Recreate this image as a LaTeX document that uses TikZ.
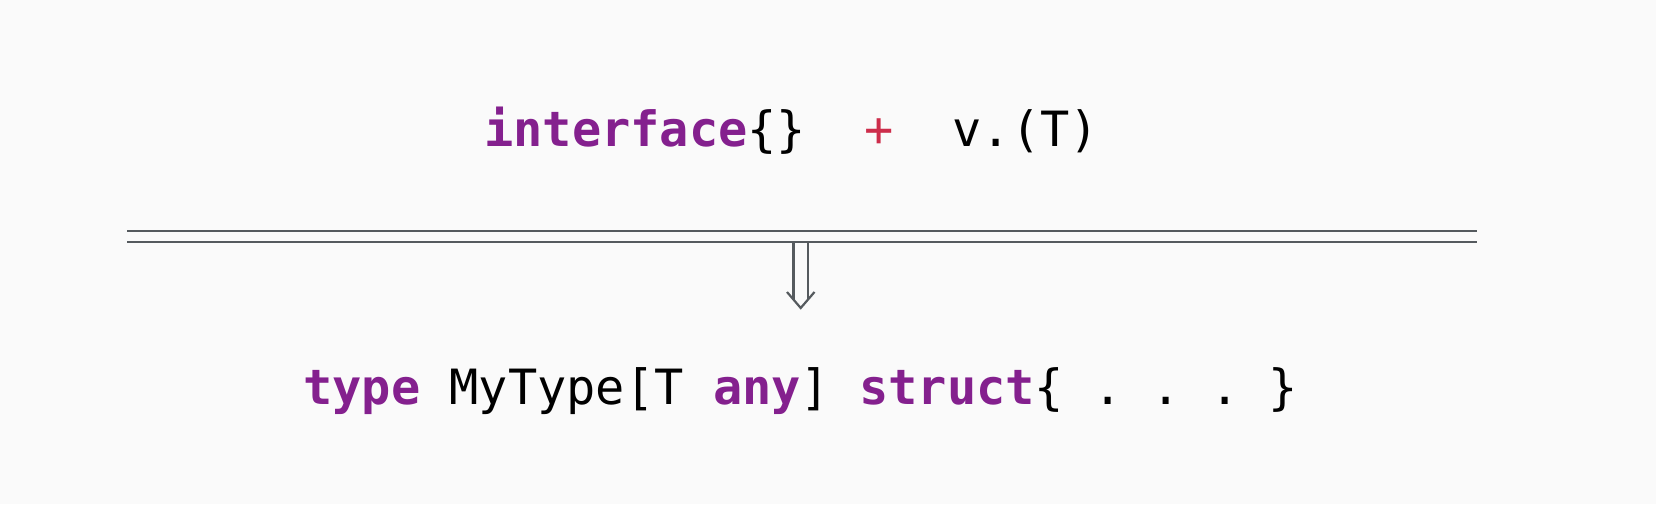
\documentclass[tikz,border=0pt]{standalone}
\usepackage{fontspec}
\setmonofont{DejaVu Sans Mono}
\usetikzlibrary{positioning, calc}
\definecolor{colKeyword}{RGB}{132, 32, 142}
\definecolor{colPlus}{RGB}{205, 45, 75}
\definecolor{colRule}{RGB}{85, 90, 94}
\definecolor{colPaper}{RGB}{250, 250, 250}
\newcommand{\gokw}[1]{\textbf{\textcolor{colKeyword}{#1}}}

\begin{document}
\begin{tikzpicture}[x=0.5pt, y=-0.5pt,
    every node/.style={font=\ttfamily\fontsize{24.3}{29}\selectfont, inner sep=0pt, anchor=base west},
    rule/.style={draw=colRule, line width=1.4pt},
    arrowline/.style={draw=colRule, line width=1.1pt}]
    % --- Hintergrund ---
    \fill[colPaper] (0,0) rectangle (1656,504);
    \useasboundingbox (0,0) rectangle (1656,504);

    % --- obere Zeile ---
    \node (topcode) at (484,146) {\gokw{interface}\{\}~~\textcolor{colPlus}{+}~~v.(T)};

    % --- Doppelstrich ---
    \coordinate (ruleAL) at (127,231);
    \coordinate (ruleAR) at (1477,231);
    \coordinate (ruleBL) at (127,242);
    \coordinate (ruleBR) at (1477,242);
    \draw[rule] (ruleAL) -- (ruleAR);
    \draw[rule] (ruleBL) -- (ruleBR);

    % --- Pfeil nach unten ---
    \coordinate (shaftL) at (793.5,242);
    \coordinate (shaftR) at (807.7,242);
    \coordinate (tip) at (800.7,308);
    \draw[arrowline] (shaftL) -- ++(0,58);
    \draw[arrowline] (shaftR) -- ++(0,58);
    \draw[arrowline] (787,292) -- (tip) -- (814.5,292);

    % --- untere Zeile ---
    \node (bottomcode) at (303,404) {\gokw{type} MyType[T \gokw{any}] \gokw{struct}\{ . . . \}};
\end{tikzpicture}
\end{document}
